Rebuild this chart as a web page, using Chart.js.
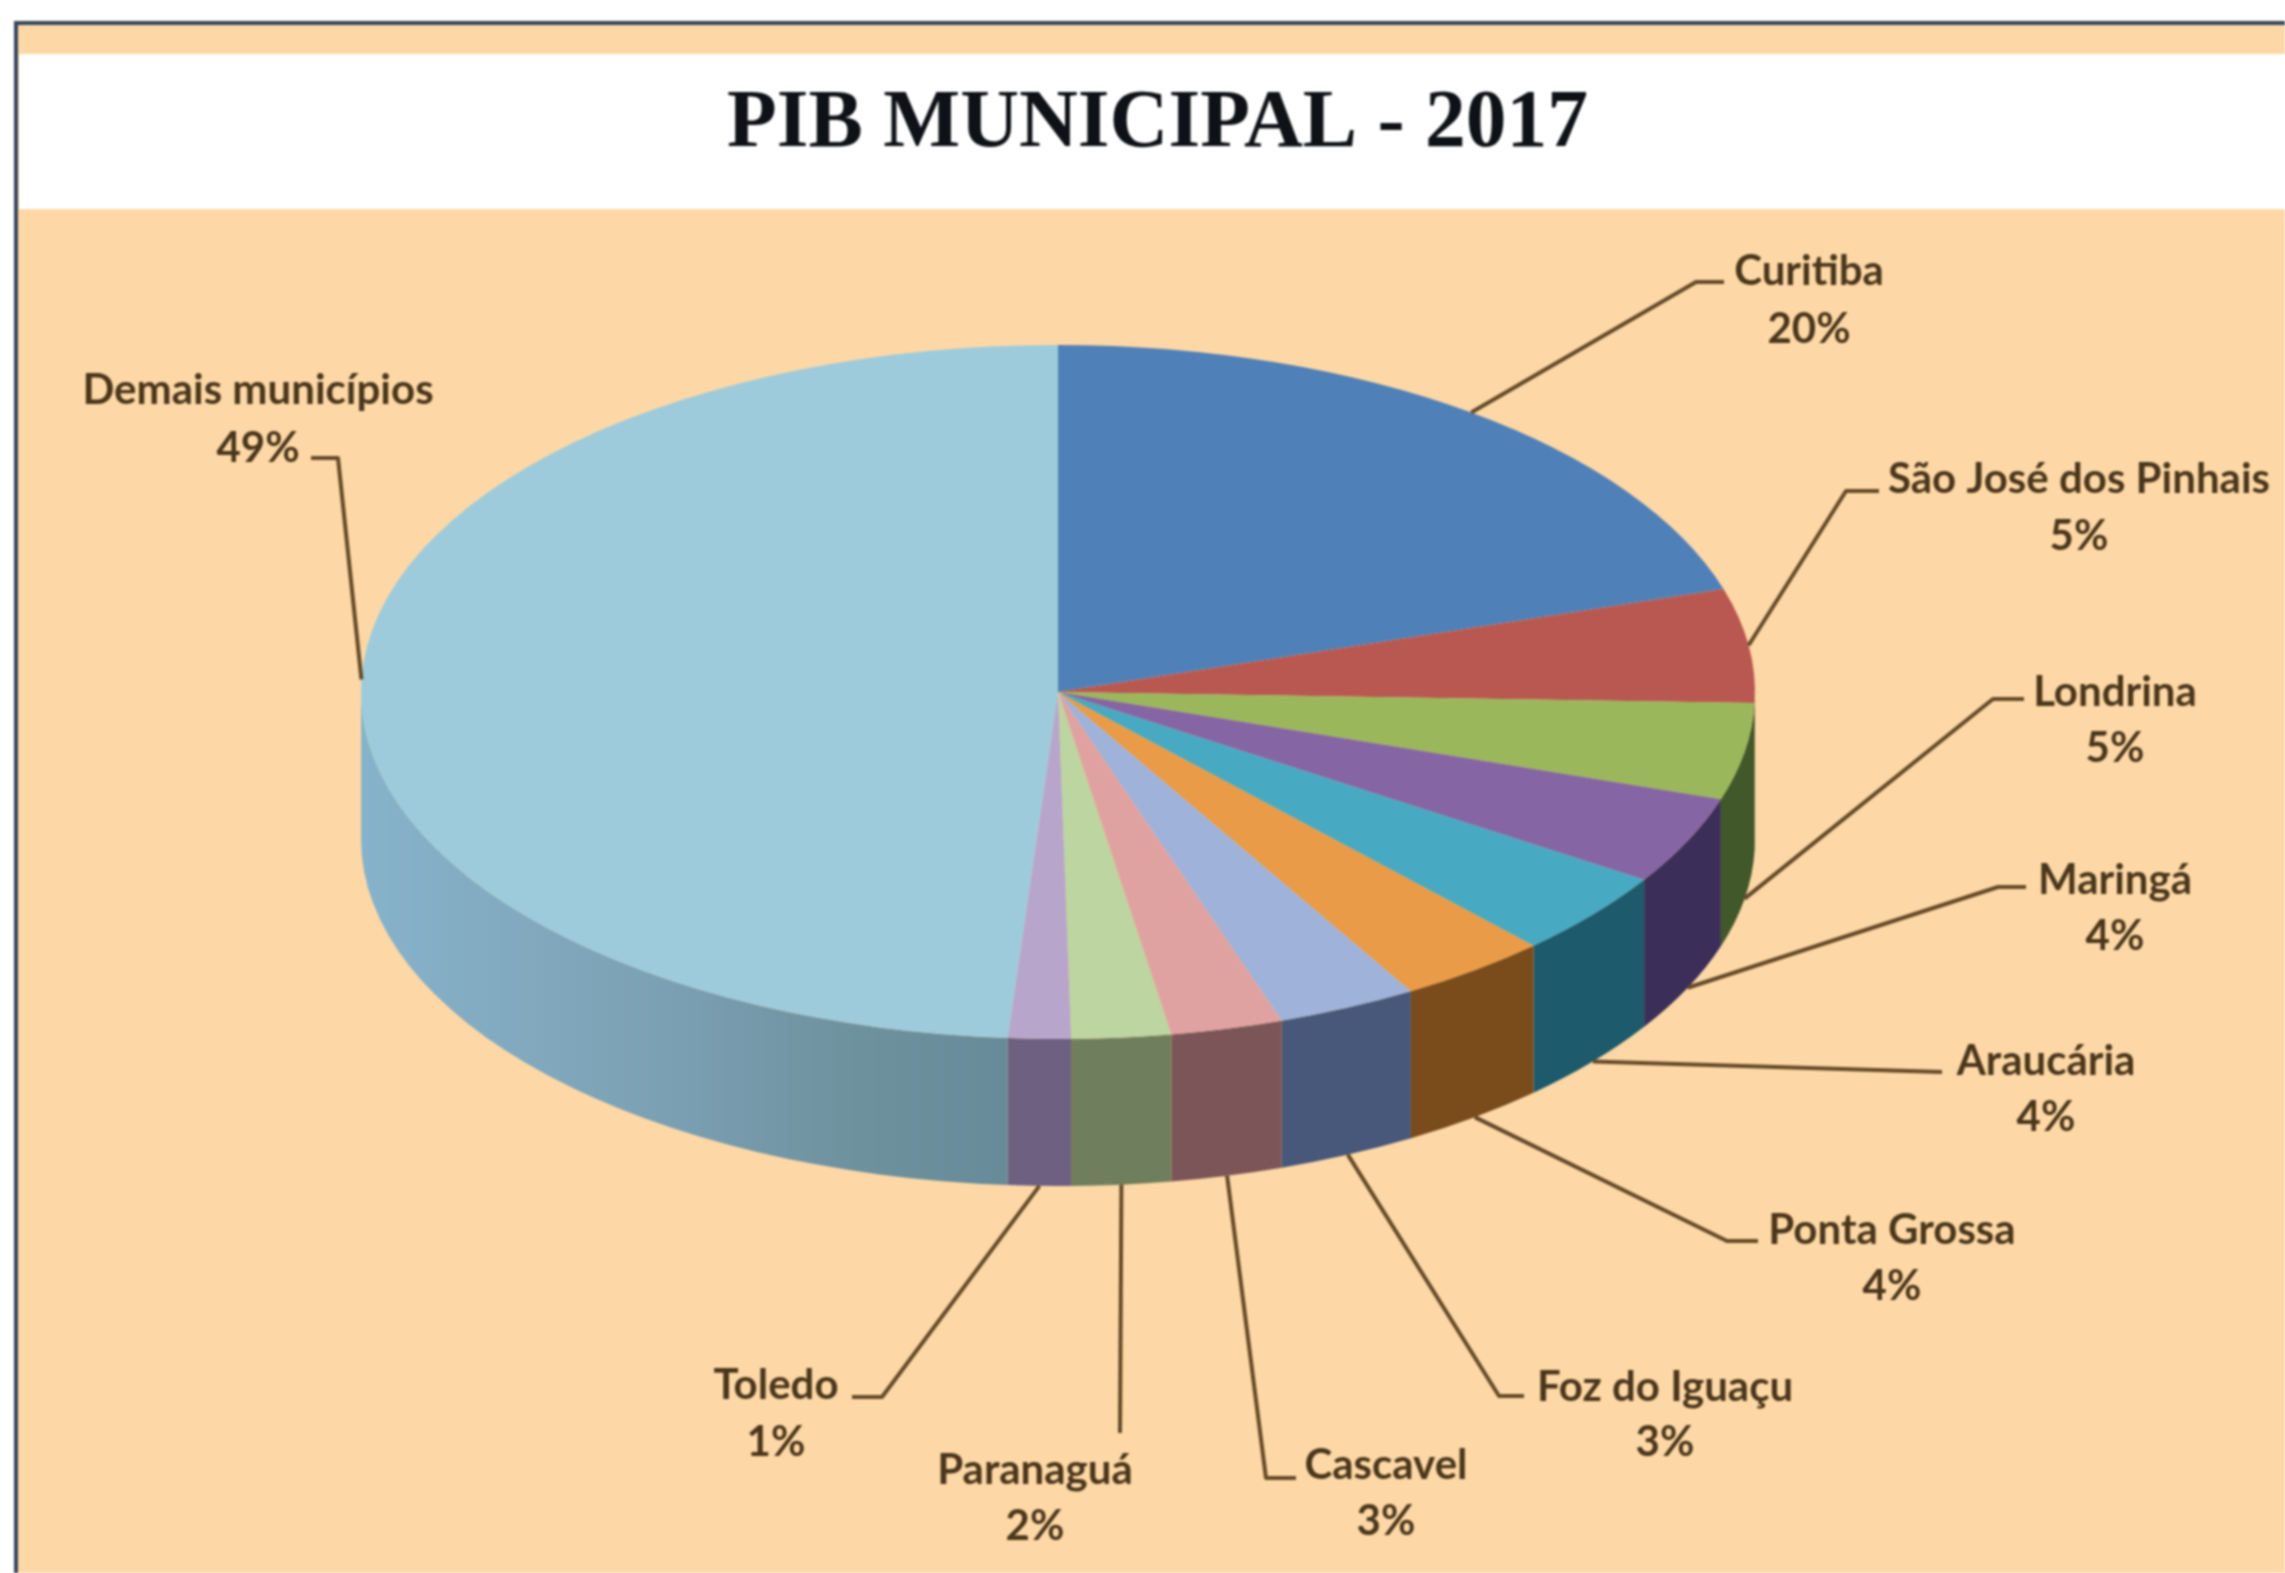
<!DOCTYPE html>
<html><head><meta charset="utf-8">
<style>html,body{margin:0;padding:0;background:#fff}#w{width:2285px;height:1573px;position:relative}canvas{filter:blur(1px)}</style>
<script src="https://cdn.jsdelivr.net/npm/chart.js@4"></script>
</head><body><div id="w"><canvas id="c"></canvas></div>
<script>
const categories=["Curitiba","São José dos Pinhais","Londrina","Maringá","Araucária","Ponta Grossa","Foz do Iguaçu","Cascavel","Paranaguá","Toledo","Demais municípios"];
const values=[20.2,5.3,4.5,4.1,3.95,3.5,3.25,2.6,2.3,1.45,48.85];
const percentLabels=["20%","5%","5%","4%","4%","4%","3%","3%","2%","1%","49%"];
const topColors=["#5080B8","#B95850","#9BB75C","#8565A3","#48A9C2","#E99B48","#9FB2DA","#E0A2A0","#BDD5A0","#B8A5CB","#9DCBDB"];
const sideColors=["#3A5C88","#7E3A34","#41582A","#3B2E58","#1D5A6C","#7A4C1C","#47587A","#7C5558","#6F7E5C","#6E6080",null];
const demaisSide=["#86B3CB","#82A9BE","#7A9FB2","#6F929F","#678B98"];

// Layout of the projected pie and of the callouts (page pixels)
const PIE={cx:1058,cy:692,rx:697,ry:347,depth:147};
const callouts=[
 {elbow:[1696,282],end:[1724,282],cx:1809,y:[271,329]},
 {elbow:[1846,491],end:[1879,491],cx:2079,y:[479,536]},
 {elbow:[1993,699],end:[2024,699],cx:2115,y:[692,748]},
 {elbow:[1998,887],end:[2026,887],cx:2115,y:[880,936]},
 {end:[1942,1072],cx:2046,y:[1061,1117]},
 {elbow:[1727,1241],end:[1758,1241],cx:1892,y:[1230,1286]},
 {elbow:[1499,1396],end:[1524,1396],cx:1665,y:[1387,1442]},
 {elbow:[1266,1478],end:[1296,1478],cx:1386,y:[1465,1521]},
 {end:[1120,1433],cx:1035,y:[1470,1526]},
 {elbow:[882,1397],end:[852,1397],cx:776,y:[1385,1442]},
 {elbow:[338,458],end:[311,458],cx:258,y:[390,448]}
];
const PEACH="#FDD8A6";

const backdrop={id:'backdrop',beforeDraw(ch){
  const c=ch.ctx;c.save();
  c.fillStyle="#fff";c.fillRect(0,0,2285,1573);
  c.fillStyle=PEACH;c.fillRect(16,24,2269,1549);
  c.fillStyle="#FFFFFF";c.fillRect(19,54,2266,155);
  c.fillStyle="#34465A";c.fillRect(14,21,2271,4);c.fillRect(14,21,4,1552);
  c.restore();
}};

const pie3d={id:'pie3d',
 beforeDatasetsDraw(ch){
  const c=ch.ctx,arcs=ch.getDatasetMeta(0).data,{cx,cy,rx,ry,depth}=PIE;
  c.save();
  arcs.forEach((a,i)=>{
    const s=Math.max(a.startAngle,0),e=Math.min(a.endAngle,Math.PI);
    if(e<=s)return;
    c.beginPath();
    c.ellipse(cx,cy,rx,ry,0,s,e,false);
    c.ellipse(cx,cy+depth,rx,ry,0,e,s,true);
    c.closePath();
    if(sideColors[i]){c.fillStyle=sideColors[i];}
    else{
      const g=c.createLinearGradient(cx-rx,0,cx+rx*Math.cos(s),0);
      demaisSide.forEach((col,k)=>g.addColorStop(k/(demaisSide.length-1),col));
      c.fillStyle=g;
    }
    c.fill();
  });
  c.restore();
  const a0=arcs[0];
  c.save();
  c.translate(cx,cy);c.scale(1,ry/rx);c.translate(-a0.x,-a0.y);
 },
 afterDatasetsDraw(ch){
  const c=ch.ctx,arcs=ch.getDatasetMeta(0).data,{cx,cy,rx,ry,depth}=PIE;
  c.restore();
  c.save();
  arcs.forEach((a,i)=>{
    const m=(a.startAngle+a.endAngle)/2,sn=Math.sin(m),k=callouts[i];
    const ax=cx+rx*Math.cos(m),ay=cy+ry*sn+(sn>0.02?depth:0);
    c.strokeStyle="#654A28";c.lineWidth=4;c.lineJoin="round";
    c.beginPath();c.moveTo(ax,ay);
    if(k.elbow)c.lineTo(k.elbow[0],k.elbow[1]);
    c.lineTo(k.end[0],k.end[1]);c.stroke();
    c.fillStyle="#4A361B";c.font="bold 42px Lato";c.textAlign="center";c.textBaseline="middle";
    c.fillText(categories[i],k.cx,k.y[0]);
    c.fillText(percentLabels[i],k.cx,k.y[1]);
  });
  c.restore();
 }
};

new Chart(document.getElementById('c'),{
 type:'pie',
 data:{labels:categories,datasets:[{data:values,backgroundColor:topColors,borderWidth:0,radius:PIE.rx,clip:false}]},
 options:{responsive:true,maintainAspectRatio:false,animation:false,
  layout:{padding:{left:30,top:0,right:0,bottom:0}},
  plugins:{legend:{display:false},tooltip:{enabled:false},
   title:{display:true,text:"PIB MUNICIPAL - 2017",color:"#0E1116",align:"center",
     font:{family:"'Liberation Serif'",size:81.5,weight:"bold"},padding:{top:76,bottom:0}}}},
 plugins:[backdrop,pie3d]
});
</script></body></html>
